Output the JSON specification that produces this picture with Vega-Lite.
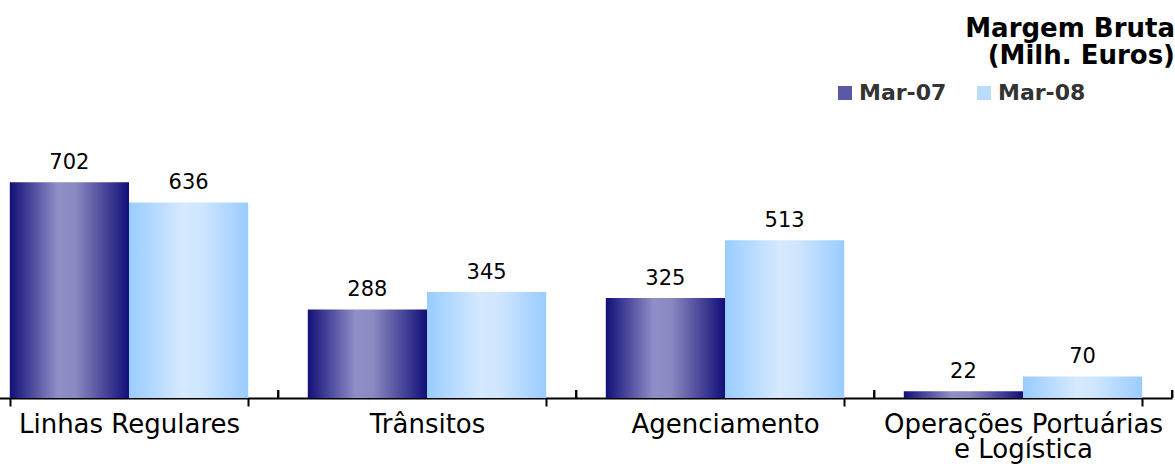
{
  "$schema": "https://vega.github.io/schema/vega-lite/v6.json",
  "width": 1175,
  "height": 246,
  "autosize": "none",
  "padding": {"left": 0, "top": 152, "right": 0, "bottom": 66},
  "background": "white",
  "config": {"view": {"stroke": null}, "font": "DejaVu Sans"},
  "title": {
    "text": ["Margem Bruta", "(Milh. Euros)"],
    "anchor": "end",
    "frame": "group",
    "align": "right",
    "fontSize": 26,
    "fontWeight": "bold",
    "color": "black",
    "lineHeight": 27,
    "offset": 13
  },
  "data": {
    "values": [
      {"cat": "Linhas Regulares", "series": "Mar-07", "value": 702},
      {"cat": "Linhas Regulares", "series": "Mar-08", "value": 636},
      {"cat": "Trânsitos", "series": "Mar-07", "value": 288},
      {"cat": "Trânsitos", "series": "Mar-08", "value": 345},
      {"cat": "Agenciamento", "series": "Mar-07", "value": 325},
      {"cat": "Agenciamento", "series": "Mar-08", "value": 513},
      {"cat": "Operações Portuárias e Logística", "series": "Mar-07", "value": 22},
      {"cat": "Operações Portuárias e Logística", "series": "Mar-08", "value": 70}
    ]
  },
  "layer": [
    {
      "mark": {
        "type": "bar",
        "strokeWidth": 0,
        "fill": {"expr": "datum.series === 'Mar-07' ? {gradient: 'linear', x1: 0, y1: 0, x2: 1, y2: 0, stops: [{offset: 0, color: '#120f78'}, {offset: 0.4, color: '#908ec6'}, {offset: 0.55, color: '#8b89c1'}, {offset: 1, color: '#120f78'}]} : {gradient: 'linear', x1: 0, y1: 0, x2: 1, y2: 0, stops: [{offset: 0, color: '#99ccff'}, {offset: 0.45, color: '#d5e9ff'}, {offset: 0.6, color: '#d0e6ff'}, {offset: 1, color: '#99ccff'}]}"}
      },
      "encoding": {
        "x": {
          "field": "cat",
          "type": "nominal",
          "sort": null,
          "scale": {"range": [-20, 1172], "paddingInner": 0.2, "paddingOuter": 0.1},
          "axis": {
            "title": null,
            "domainColor": "black",
            "domainWidth": 2,
            "tickColor": "black",
            "tickWidth": 2,
            "tickSize": 8,
            "tickBand": "extent",
            "labelFontSize": 26,
            "labelColor": "black",
            "labelPadding": 5,
            "labelOverlap": false,
            "labelLimit": 0,
            "labelLineHeight": 25,
            "labelAngle": 0,
            "labelExpr": "datum.label == 'Operações Portuárias e Logística' ? ['Operações Portuárias', 'e Logística'] : datum.label"
          }
        },
        "xOffset": {"field": "series", "type": "nominal", "scale": {"paddingInner": 0, "paddingOuter": 0}},
        "y": {"field": "value", "type": "quantitative", "scale": {"domain": [0, 800]}, "axis": null}
      }
    },
    {
      "mark": {"type": "square", "filled": true, "opacity": 0},
      "encoding": {
        "x": {"field": "cat", "type": "nominal", "sort": null},
        "xOffset": {"field": "series", "type": "nominal"},
        "y": {"field": "value", "type": "quantitative"},
        "fill": {
          "field": "series",
          "type": "nominal",
          "scale": {"domain": ["Mar-07", "Mar-08"], "range": ["#5b59a3", "#bcdcff"]},
          "legend": {
            "title": null,
            "orient": "none",
            "legendX": 834,
            "legendY": -70,
            "direction": "horizontal",
            "symbolType": "square",
            "symbolSize": 196,
            "symbolStrokeWidth": 0,
            "symbolOpacity": 1,
            "labelFontSize": 22,
            "labelFontWeight": "bold",
            "labelColor": "#333333",
            "labelOffset": 3,
            "columnPadding": 26,
            "padding": 0
          }
        }
      }
    },
    {
      "mark": {"type": "text", "baseline": "alphabetic", "dy": -13, "fontSize": 21, "color": "black"},
      "encoding": {
        "x": {"field": "cat", "type": "nominal", "sort": null},
        "xOffset": {"field": "series", "type": "nominal"},
        "y": {"field": "value", "type": "quantitative"},
        "text": {"field": "value", "type": "quantitative"}
      }
    },
    {
      "mark": {"type": "rule", "strokeWidth": 2, "color": "black"},
      "encoding": {
        "x": {"field": "cat", "type": "nominal", "sort": null, "bandPosition": 1.126},
        "y": {"datum": 0},
        "y2": {"datum": 26}
      }
    }
  ]
}
